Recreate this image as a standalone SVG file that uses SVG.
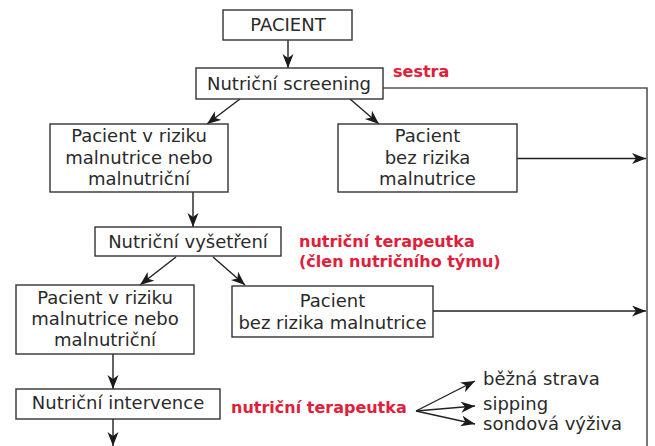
<svg xmlns="http://www.w3.org/2000/svg" width="655" height="446" viewBox="0 0 655 446">
<style>
.box{fill:#fff;stroke:#333;stroke-width:1.4}
.t{font-family:"DejaVu Sans",sans-serif;font-size:18px;fill:#2a2a2a;text-anchor:middle}
.tl{font-family:"DejaVu Sans",sans-serif;font-size:18px;fill:#2a2a2a}
.r{font-family:"DejaVu Sans",sans-serif;font-size:16px;font-weight:bold;fill:#e0203a}
.c{fill:none;stroke:#222;stroke-width:1.4}
.g{fill:none;stroke:#555;stroke-width:1.6}
</style>
<defs>
<marker id="ah" markerUnits="userSpaceOnUse" markerWidth="16" markerHeight="12" refX="14" refY="5.5" orient="auto">
<path d="M0,0 L14,5.5 L0,11 L4,5.5 z" fill="#1a1a1a"/>
</marker>
</defs>
<rect width="655" height="446" fill="#fff"/>
<g id="connectors">
<line class="c" x1="288" y1="40" x2="288" y2="68" marker-end="url(#ah)"/>
<path class="g" d="M383,88 H647 V446"/>
<line class="c" x1="240" y1="99" x2="207" y2="124" marker-end="url(#ah)"/>
<line class="c" x1="350" y1="99" x2="379" y2="124" marker-end="url(#ah)"/>
<line class="c" x1="517" y1="158.5" x2="646" y2="158.5" marker-end="url(#ah)"/>
<line class="c" x1="193" y1="192" x2="193" y2="227" marker-end="url(#ah)"/>
<line class="c" x1="176" y1="257" x2="140" y2="285" marker-end="url(#ah)"/>
<line class="c" x1="213" y1="257" x2="245" y2="285" marker-end="url(#ah)"/>
<line class="c" x1="433" y1="311" x2="646" y2="311" marker-end="url(#ah)"/>
<line class="c" x1="113" y1="354" x2="113" y2="389" marker-end="url(#ah)"/>
<line class="c" x1="113" y1="419" x2="113" y2="446" marker-end="url(#ah)"/>
<line class="c" x1="416" y1="411" x2="475" y2="381" marker-end="url(#ah)"/>
<line class="c" x1="416" y1="411" x2="475" y2="406" marker-end="url(#ah)"/>
<line class="c" x1="416" y1="411" x2="475" y2="424" marker-end="url(#ah)"/>
</g>
<g id="pacient">
<rect class="box" x="223" y="10" width="129" height="30"/>
<text class="t" x="288" y="31">PACIENT</text>
</g>
<g id="screening">
<rect class="box" x="196" y="68" width="187" height="31"/>
<text class="t" x="289" y="89.5">Nutriční screening</text>
</g>
<g id="sestra">
<text class="r" x="393" y="77">sestra</text>
</g>
<g id="riziko1">
<rect class="box" x="50" y="124" width="178" height="68"/>
<text class="t" x="139" y="142">Pacient v riziku</text>
<text class="t" x="139" y="163.5">malnutrice nebo</text>
<text class="t" x="139" y="185">malnutriční</text>
</g>
<g id="bezrizika1">
<rect class="box" x="338" y="124" width="179" height="68"/>
<text class="t" x="427.5" y="142">Pacient</text>
<text class="t" x="427.5" y="163.5">bez rizika</text>
<text class="t" x="427.5" y="185">malnutrice</text>
</g>
<g id="vysetreni">
<rect class="box" x="95" y="227" width="186" height="29"/>
<text class="t" x="188" y="248">Nutriční vyšetření</text>
</g>
<g id="terapeutka1">
<text class="r" x="299" y="247">nutriční terapeutka</text>
<text class="r" x="299" y="267">(člen nutričního týmu)</text>
</g>
<g id="riziko2">
<rect class="box" x="16" y="285" width="178" height="69"/>
<text class="t" x="105" y="304">Pacient v riziku</text>
<text class="t" x="105" y="325">malnutrice nebo</text>
<text class="t" x="105" y="346">malnutriční</text>
</g>
<g id="bezrizika2">
<rect class="box" x="232" y="286" width="201" height="51"/>
<text class="t" x="332.5" y="307">Pacient</text>
<text class="t" x="332.5" y="328.5">bez rizika malnutrice</text>
</g>
<g id="intervence">
<rect class="box" x="16" y="389" width="204" height="30"/>
<text class="t" x="118" y="409">Nutriční intervence</text>
</g>
<g id="terapeutka2">
<text class="r" x="231" y="413">nutriční terapeutka</text>
</g>
<g id="moznosti">
<text class="tl" x="483" y="385">běžná strava</text>
<text class="tl" x="483" y="410">sipping</text>
<text class="tl" x="483" y="430">sondová výživa</text>
</g>
</svg>
